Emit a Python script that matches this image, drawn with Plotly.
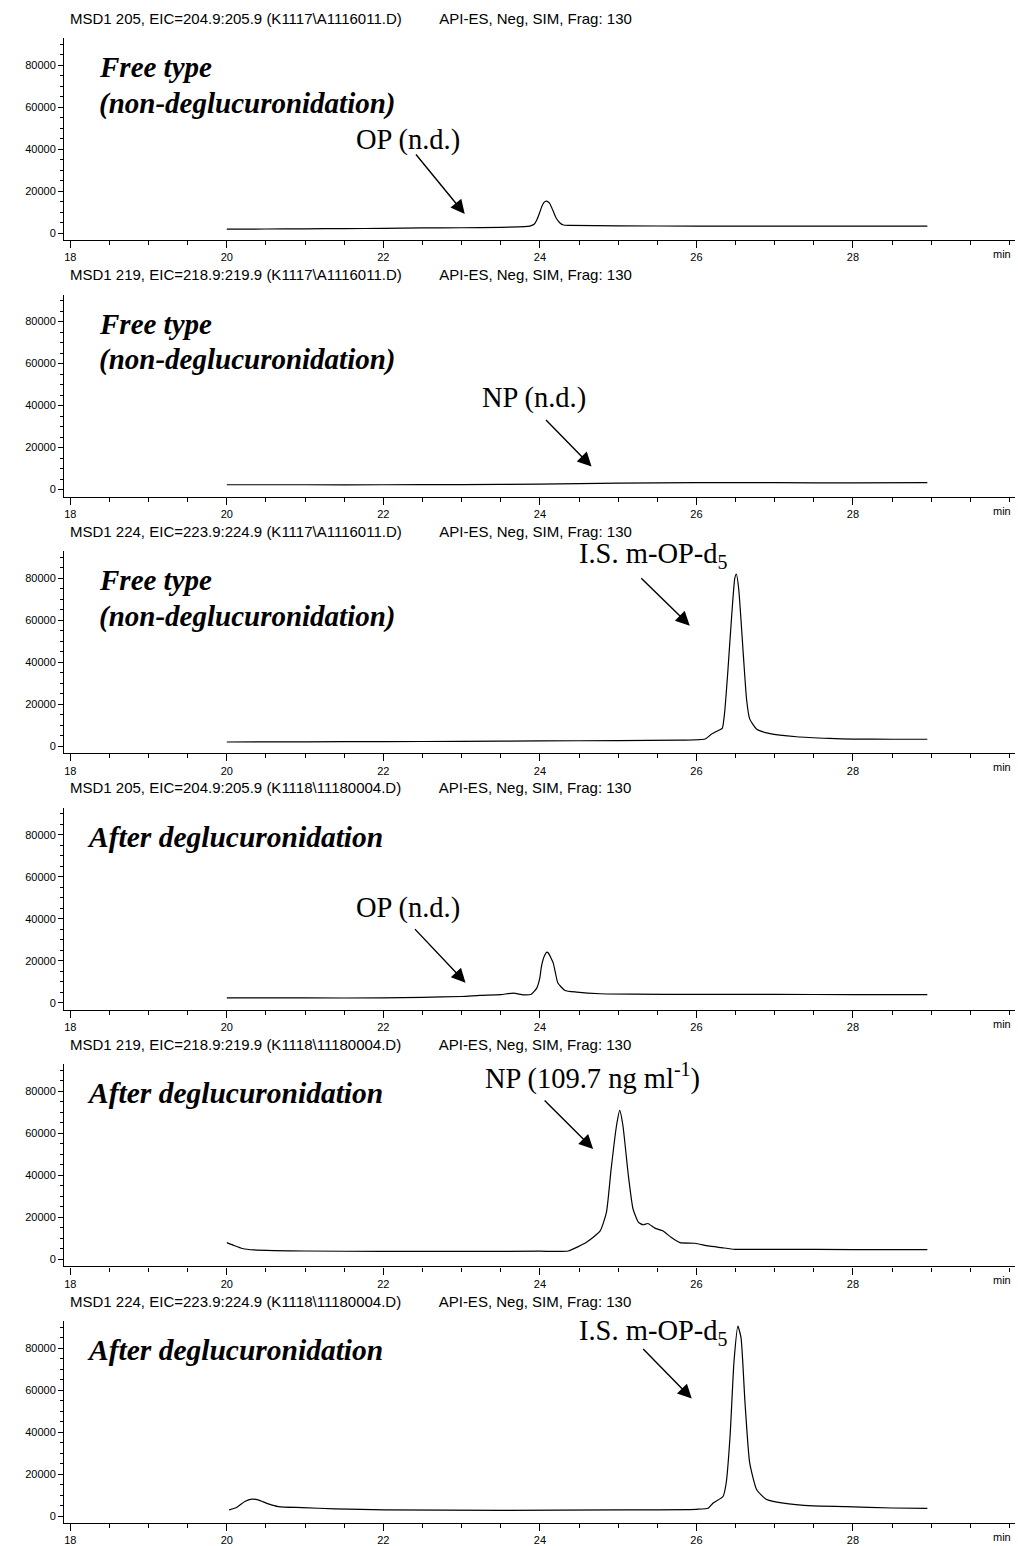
import plotly.graph_objects as go

# ---------------- data ----------------
headers = [
    "MSD1 205, EIC=204.9:205.9 (K1117\\A1116011.D)",
    "MSD1 219, EIC=218.9:219.9 (K1117\\A1116011.D)",
    "MSD1 224, EIC=223.9:224.9 (K1117\\A1116011.D)",
    "MSD1 205, EIC=204.9:205.9 (K1118\\11180004.D)",
    "MSD1 219, EIC=218.9:219.9 (K1118\\11180004.D)",
    "MSD1 224, EIC=223.9:224.9 (K1118\\11180004.D)",
]
header_tail = "API-ES, Neg, SIM, Frag: 130"

x_ticks = [18, 20, 22, 24, 26, 28]
y_ticks = [0, 20000, 40000, 60000, 80000]

# Panel 1: OP, free type
t1 = [20.0, 20.5, 21.0, 21.5, 22.0, 22.5, 23.0, 23.5, 23.8, 23.87, 23.93, 23.96, 24.0,
      24.02, 24.05, 24.085, 24.12, 24.15, 24.18, 24.21, 24.25, 24.30, 24.38, 25.0, 26.0,
      27.0, 28.0, 28.95]
y1 = [1800, 1900, 2000, 2100, 2200, 2400, 2500, 2700, 3000, 3300, 4300, 6200, 10000,
      12200, 14500, 15200, 14300, 12200, 9500, 7000, 5000, 3800, 3650, 3400, 3300,
      3300, 3300, 3300]

# Panel 2: NP, free type
t2 = [20.0, 21.0, 22.0, 23.0, 24.0, 24.5, 25.0, 26.0, 27.0, 28.0, 28.95]
y2 = [2300, 2300, 2300, 2400, 2600, 2800, 3100, 3300, 3300, 3200, 3300]

# Panel 3: I.S. m-OP-d5, free type
t3 = [20.0, 21.0, 22.0, 23.0, 24.0, 25.0, 25.8, 26.11, 26.19, 26.28, 26.33, 26.36, 26.40,
      26.45, 26.49, 26.51, 26.54, 26.60, 26.64, 26.68, 26.77, 26.94, 27.28, 27.7, 28.0, 28.5, 28.95]
y3 = [2000, 2100, 2200, 2300, 2500, 2700, 2900, 3400, 5700, 7500, 8500, 16000, 35000,
      62000, 80000, 82000, 75000, 43000, 22500, 13000, 8100, 6000, 4500, 3700, 3400, 3300, 3300]

# Panel 4: OP, after deglucuronidation
t4 = [20.0, 21.0, 22.0, 22.5, 23.0, 23.23, 23.5, 23.66, 23.79, 23.89, 23.96, 24.0, 24.02,
      24.06, 24.09, 24.11, 24.14, 24.17, 24.20, 24.23, 24.32, 24.47, 24.77, 25.19, 26.0,
      27.0, 28.0, 28.95]
y4 = [2300, 2300, 2300, 2600, 3000, 3500, 3900, 4600, 3800, 4100, 7000, 12000, 17400,
      22500, 24100, 23600, 21500, 19000, 14000, 9400, 5900, 5100, 4300, 4100, 4000,
      4000, 3900, 3900]

# Panel 5: NP, after deglucuronidation
t5 = [20.0, 20.1, 20.2, 20.35, 20.6, 21.0, 22.0, 23.0, 24.0, 24.36, 24.6, 24.77, 24.85,
      24.91, 24.98, 25.02, 25.06, 25.13, 25.19, 25.26, 25.32, 25.38, 25.47, 25.57, 25.68,
      25.79, 25.98, 26.15, 26.32, 26.49, 27.04, 28.0, 28.95]
y5 = [8000, 6500, 5200, 4500, 4200, 4000, 3800, 3800, 3900, 4000, 8300, 13600, 22400,
      43000, 64000, 71000, 64000, 40000, 24000, 17600, 16500, 17100, 14900, 13600, 10400,
      8000, 7700, 6400, 5600, 4800, 4800, 4700, 4700]

# Panel 6: I.S. m-OP-d5, after deglucuronidation
t6 = [20.03, 20.13, 20.23, 20.32, 20.40, 20.53, 20.66, 20.96, 21.38, 22.02, 23.51, 25.0,
      26.0, 26.15, 26.21, 26.34, 26.38, 26.43, 26.48, 26.53, 26.57, 26.62, 26.68, 26.77,
      26.89, 27.11, 27.49, 27.91, 28.5, 28.95]
y6 = [2900, 4200, 6900, 8000, 7700, 5800, 4500, 4000, 3400, 2900, 2700, 2900,
      3200, 3700, 6100, 9300, 15700, 38200, 73600, 90400, 84800, 54300, 25400, 12500,
      8000, 6100, 4800, 4500, 3800, 3600]

series_t = [t1, t2, t3, t4, t5, t6]
series_y = [y1, y2, y3, y4, y5, y6]

panel_titles = [
    ["Free type", "(non-deglucuronidation)"],
    ["Free type", "(non-deglucuronidation)"],
    ["Free type", "(non-deglucuronidation)"],
    ["After deglucuronidation"],
    ["After deglucuronidation"],
    ["After deglucuronidation"],
]
peak_labels = ["OP (n.d.)", "NP (n.d.)", "I.S. m-OP-d<sub>5</sub>",
               "OP (n.d.)", "NP (109.7 ng ml<sup>-1</sup>)", "I.S. m-OP-d<sub>5</sub>"]

# ---------------- layout geometry ----------------
W, H = 1018, 1546
L, R = 64, 3
PW = W - L - R
STEP = 256.6
AX_BOTTOM0 = 240
AX_TOP0 = 38


def px(p):
    return (p - L) / PW


def py(p):
    return 1 - p / H


# arrow heads (data coords) and tail offsets (pixels)
arrow_heads = [(23.04, 9050), (24.66, 11000), (25.915, 57400),
               (23.05, 9600), (24.68, 52600), (25.94, 55900)]
arrow_offsets = [(-50, -61), (-47, -48), (-50, -49), (-52, -55), (-50, -50), (-50, -51)]
label_centers = [(408, 140), (534, 398), (653, 555), (408, 908), (592, 1076), (653, 1332)]

fig = go.Figure()
annotations = []
layout = dict(
    width=W, height=H,
    margin=dict(l=L, r=R, t=0, b=0),
    paper_bgcolor="white", plot_bgcolor="white",
    showlegend=False,
    font=dict(family="Liberation Sans, Arial", color="black", size=11),
)

for i in range(6):
    n = i + 1
    xa = "x" if n == 1 else f"x{n}"
    ya = "y" if n == 1 else f"y{n}"
    fig.add_trace(go.Scatter(
        x=series_t[i], y=series_y[i], mode="lines",
        line=dict(color="black", width=1.2, shape="spline", smoothing=0.5),
        xaxis=xa, yaxis=ya, hoverinfo="skip"))

    bottom = AX_BOTTOM0 + STEP * i
    top = AX_TOP0 + STEP * i
    layout[f"xaxis{n}" if n > 1 else "xaxis"] = dict(
        domain=[0, 1], anchor=ya, range=[17.92, 30.07],
        tickmode="array", tickvals=x_ticks, ticktext=[str(v) for v in x_ticks],
        ticks="outside", ticklen=7, tickwidth=1, tickcolor="black",
        minor=dict(dtick=0.5, tick0=18, ticks="outside", ticklen=4, tickcolor="black", showgrid=False),
        showline=True, linecolor="black", linewidth=1.3,
        showgrid=False, zeroline=False,
        tickfont=dict(size=11, family="Liberation Sans, Arial", color="black"),
    )
    layout[f"yaxis{n}" if n > 1 else "yaxis"] = dict(
        domain=[py(bottom), py(top)], anchor=xa, range=[-3333, 92857],
        tickmode="array", tickvals=y_ticks, ticktext=[str(v) for v in y_ticks],
        ticks="outside", ticklen=5, tickwidth=1, tickcolor="black",
        minor=dict(dtick=5000, tick0=0, ticks="outside", ticklen=3, tickcolor="black", showgrid=False),
        showline=True, linecolor="black", linewidth=1,
        showgrid=False, zeroline=False,
        tickfont=dict(size=11, family="Liberation Sans, Arial", color="black"),
    )

    # header line
    annotations.append(dict(
        xref="paper", yref="paper", x=px(68), y=py(18 + STEP * i),
        xanchor="left", yanchor="middle", showarrow=False,
        text=headers[i] + "\u00a0" * 9 + header_tail,
        font=dict(family="Liberation Sans, Arial", size=15, color="black")))
    # "min" unit label
    annotations.append(dict(
        xref="paper", yref="paper", x=px(1002), y=py(bottom + 14),
        xanchor="center", yanchor="middle", showarrow=False, text="min",
        font=dict(family="Liberation Sans, Arial", size=11, color="black")))
    # panel titles
    tl = panel_titles[i]
    if len(tl) == 2:
        for k, txt in enumerate(tl):
            annotations.append(dict(
                xref="paper", yref="paper", x=px(97), y=py(67 + 36 * k + STEP * i),
                xanchor="left", yanchor="middle", showarrow=False,
                text=f"<b><i>{txt}</i></b>",
                font=dict(family="Liberation Serif, Times New Roman", size=29, color="black")))
    else:
        annotations.append(dict(
            xref="paper", yref="paper", x=px(85), y=py(67 + STEP * i),
            xanchor="left", yanchor="middle", showarrow=False,
            text=f"<b><i>{tl[0]}</i></b>",
            font=dict(family="Liberation Serif, Times New Roman", size=29.5, color="black")))
    # peak label
    cx, cy = label_centers[i]
    annotations.append(dict(
        xref="paper", yref="paper", x=px(cx), y=py(cy),
        xanchor="center", yanchor="middle", showarrow=False,
        text=peak_labels[i],
        font=dict(family="Liberation Serif, Times New Roman", size=28.5, color="black")))
    # arrow
    hx, hy = arrow_heads[i]
    ox, oy = arrow_offsets[i]
    annotations.append(dict(
        xref=xa, yref=ya, x=hx, y=hy, ax=ox, ay=oy, text="",
        showarrow=True, arrowhead=2, arrowsize=2.0, arrowwidth=1.4, arrowcolor="black"))

layout["annotations"] = annotations
fig.update_layout(**layout)
fig.write_html("out.html")
